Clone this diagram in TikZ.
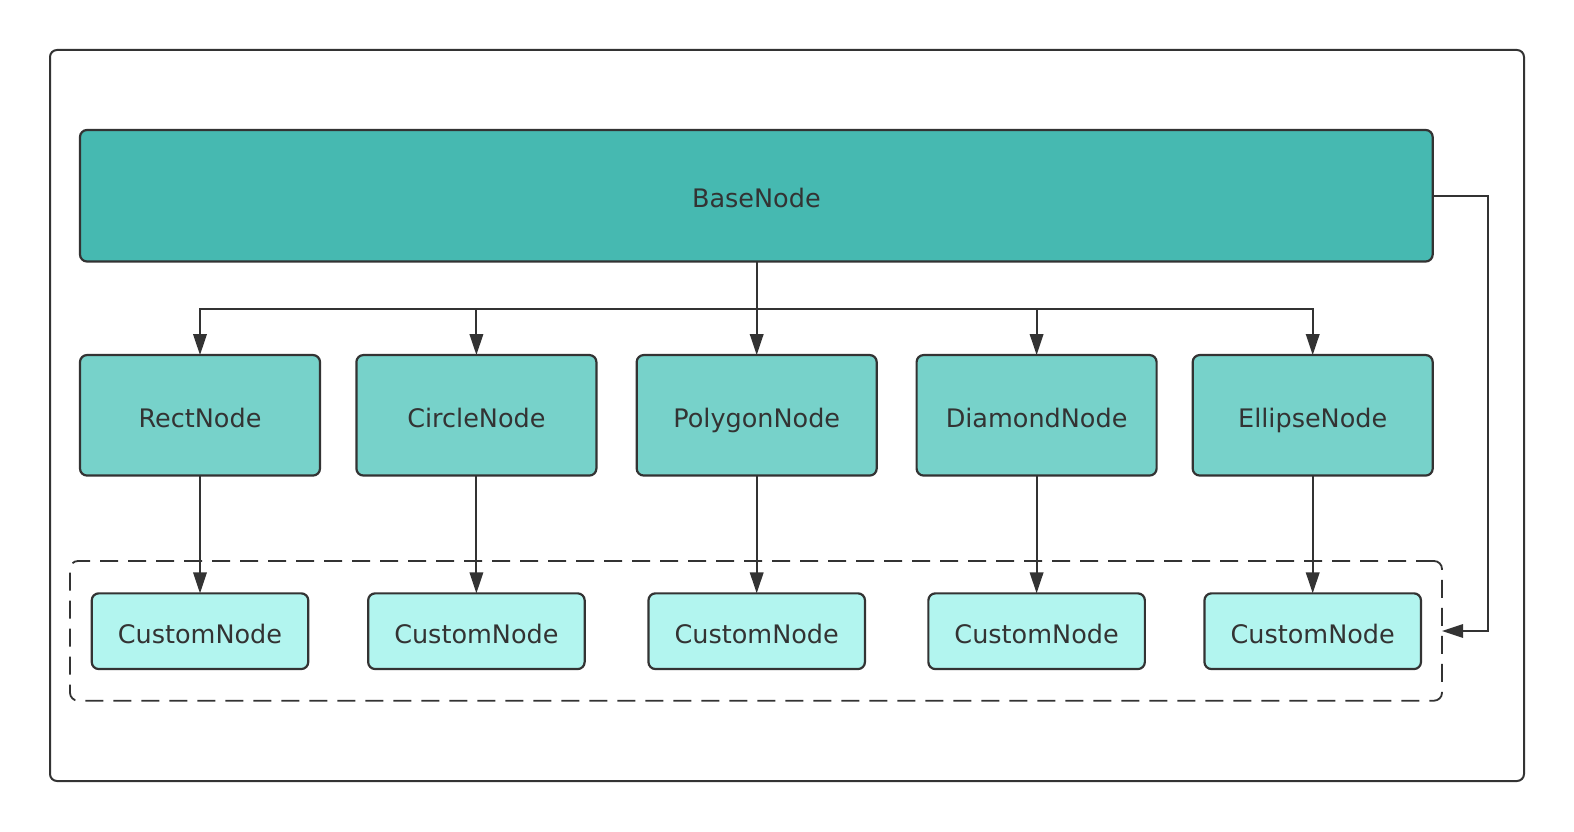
\documentclass[tikz,border=0pt]{standalone}
\usepackage{fontspec}
\setmainfont{DejaVu Sans}
\usetikzlibrary{arrows.meta}
\definecolor{ink}{HTML}{333333}
\definecolor{basefill}{HTML}{46B9B1}
\definecolor{midfill}{HTML}{77D2CA}
\definecolor{custfill}{HTML}{B2F5EF}
\begin{document}
\begin{tikzpicture}[x=1pt,y=-1pt,
  box/.style={draw=ink,line width=2.2pt,rounded corners=7pt,text=ink,font=\fontsize{25.5}{30}\selectfont,inner sep=0pt,outer sep=0pt,text height=24pt,text depth=0pt},
  basebox/.style={box,fill=basefill},
  midbox/.style={box,fill=midfill,minimum width=240pt,minimum height=120.5pt},
  custbox/.style={box,fill=custfill,minimum width=216.5pt,minimum height=75.7pt},
  conn/.style={draw=ink,line width=2pt,-{Triangle[length=21pt,width=13.5pt]}},
]
\useasboundingbox (0,0) rectangle (1574,832);
\node[draw=ink,line width=2pt,rounded corners=7pt,minimum width=1474pt,minimum height=731pt,anchor=north west,outer sep=0pt,inner sep=0pt] (frame) at (50,50) {};
\node[draw=ink,line width=1.8pt,dash pattern=on 18pt off 10pt,rounded corners=8pt,minimum width=1372pt,minimum height=139.7pt,anchor=north west,outer sep=0pt,inner sep=0pt] (group) at (70,561) {};
\node[basebox,minimum width=1352.7pt,minimum height=131.5pt,anchor=north west] (base) at (80,130) {BaseNode};
\node[midbox] (rect) at (200,415.3) {RectNode};
\node[midbox] (circ) at (476.4,415.3) {CircleNode};
\node[midbox] (poly) at (756.7,415.3) {PolygonNode};
\node[midbox] (diam) at (1036.6,415.3) {DiamondNode};
\node[midbox] (elli) at (1312.7,415.3) {EllipseNode};
\node[custbox] (c1) at (200,631.2) {CustomNode};
\node[custbox] (c2) at (476.4,631.2) {CustomNode};
\node[custbox] (c3) at (756.7,631.2) {CustomNode};
\node[custbox] (c4) at (1036.6,631.2) {CustomNode};
\node[custbox] (c5) at (1312.7,631.2) {CustomNode};
\coordinate (bus) at (756.7,309);
\foreach \n in {rect,circ,poly,diam,elli}{
  \draw[conn] (base.south -| poly) |- (bus) -| (\n.north);
}
\draw[conn] (rect) -- (c1);
\draw[conn] (circ) -- (c2);
\draw[conn] (poly) -- (c3);
\draw[conn] (diam) -- (c4);
\draw[conn] (elli) -- (c5);
\coordinate (rt) at (1488,195.7);
\draw[conn,line width=1.7pt] (base.east |- rt) -- (rt) |- (group.east |- 0,631);
\end{tikzpicture}
\end{document}
